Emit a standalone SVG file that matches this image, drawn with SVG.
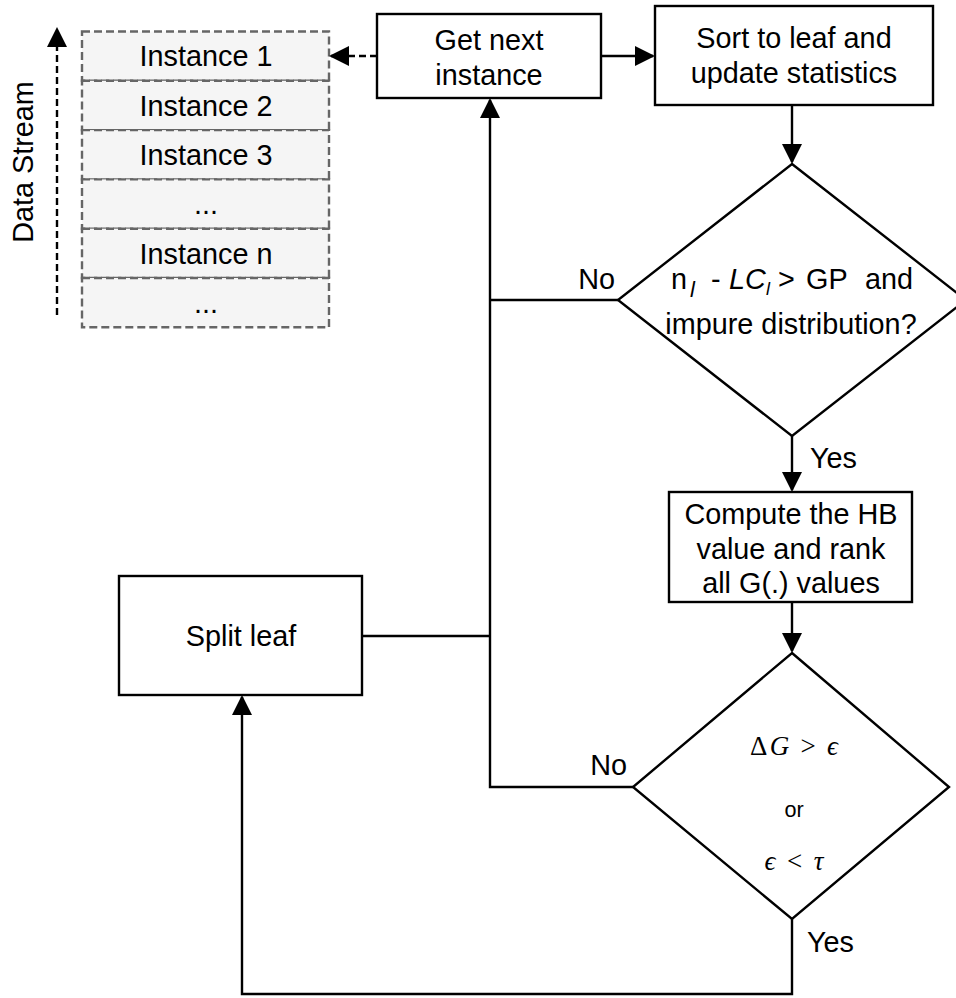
<svg xmlns="http://www.w3.org/2000/svg" width="956" height="998" viewBox="0 0 956 998">
  <defs>
    <marker id="arrow" markerUnits="userSpaceOnUse" markerWidth="20" markerHeight="20" refX="18" refY="10" orient="auto">
      <path d="M0,0 L20,10 L0,20 Z" fill="#000"/>
    </marker>
    <style>
      .box{fill:#fff;stroke:#000;stroke-width:2.4}
      .row{fill:#f5f5f5;stroke:#666;stroke-width:2.4;stroke-dasharray:8 4}
      .lbl{font-family:"Liberation Sans",Helvetica,Arial,sans-serif;font-size:28.8px;fill:#000;text-anchor:middle}
      .lbl-start{text-anchor:start}
      .lbl-end{text-anchor:end}
      .small{font-size:21.6px}
      .edge{fill:none;stroke:#000;stroke-width:2.4}
      .dash{stroke-dasharray:7 4}
      .math{font-family:"Liberation Serif","DejaVu Serif",serif;font-size:27px;fill:#000;text-anchor:middle}
      .it{font-style:italic}
    </style>
  </defs>

  <rect width="956" height="998" fill="#fff"/>

  <!-- data stream queue -->
  <g id="stream">
    <rect class="row" x="82" y="31.5" width="247" height="49.3"/>
    <rect class="row" x="82" y="80.8" width="247" height="49.3"/>
    <rect class="row" x="82" y="130.1" width="247" height="49.3"/>
    <rect class="row" x="82" y="179.4" width="247" height="49.3"/>
    <rect class="row" x="82" y="228.7" width="247" height="49.3"/>
    <rect class="row" x="82" y="278" width="247" height="49.3"/>
    <text class="lbl" x="206" y="66">Instance 1</text>
    <text class="lbl" x="206" y="115.5">Instance 2</text>
    <text class="lbl" x="206" y="165">Instance 3</text>
    <text class="lbl" x="206" y="214">...</text>
    <text class="lbl" x="206" y="263.5">Instance n</text>
    <text class="lbl" x="206" y="313">...</text>
    <text class="lbl" transform="translate(33,162) rotate(-90)">Data Stream</text>
  </g>

  <!-- process nodes -->
  <g id="get-next">
    <rect class="box" x="377" y="14" width="224" height="84"/>
    <text class="lbl" x="489" y="50">Get next</text>
    <text class="lbl" x="489" y="85">instance</text>
  </g>

  <g id="sort-leaf">
    <rect class="box" x="655" y="6" width="278" height="99"/>
    <text class="lbl" x="794" y="48">Sort to leaf and</text>
    <text class="lbl" x="794" y="83">update statistics</text>
  </g>

  <g id="check-grace">
    <polygon class="box" points="792,164 966,300 792,436 618,300"/>
    <text class="lbl lbl-start" y="289" xml:space="preserve"><tspan x="671">n</tspan><tspan class="it" x="690" y="297" font-size="22">l</tspan><tspan x="711" y="289">-</tspan><tspan class="it" x="729">LC</tspan><tspan class="it" x="766" y="295" font-size="18">l</tspan><tspan x="778" y="289">&gt;</tspan><tspan x="806">GP</tspan><tspan x="865">and</tspan></text>
    <text class="lbl" x="791" y="334">impure distribution?</text>
  </g>

  <g id="compute-hb">
    <rect class="box" x="669" y="492" width="243" height="110"/>
    <text class="lbl" x="791" y="524">Compute the HB</text>
    <text class="lbl" x="791" y="559">value and rank</text>
    <text class="lbl" x="791" y="593">all G(.) values</text>
  </g>

  <g id="check-split">
    <polygon class="box" points="792,653 949,787 792,919 633,787"/>
    <text class="math" x="794" y="755" textLength="88" lengthAdjust="spacing">Δ<tspan class="it">G</tspan> &gt; <tspan class="it">ϵ</tspan></text>
    <text class="lbl small" x="794" y="817">or</text>
    <text class="math" x="794" y="870" textLength="59" lengthAdjust="spacing"><tspan class="it">ϵ</tspan> &lt; <tspan class="it">τ</tspan></text>
  </g>

  <g id="split-leaf">
    <rect class="box" x="119" y="576" width="243" height="119"/>
    <text class="lbl" x="241" y="646">Split leaf</text>
  </g>

  <!-- connectors -->
  <g id="edges">
    <path class="edge dash" d="M57,315 L57,29" marker-end="url(#arrow)"/>
    <path class="edge dash" d="M377,56 L331,56" marker-end="url(#arrow)"/>
    <path class="edge" d="M601,56 L653,56" stroke-width="4" marker-end="url(#arrow)"/>
    <path class="edge" d="M792,105 L792,162" marker-end="url(#arrow)"/>
    <path class="edge" d="M792,436 L792,490" marker-end="url(#arrow)"/>
    <path class="edge" d="M792,602 L792,651" marker-end="url(#arrow)"/>
    <path class="edge" d="M618,300 L490,300"/>
    <path class="edge" d="M362,636 L490,636"/>
    <path class="edge" d="M633,787 L490,787 L490,100" marker-end="url(#arrow)"/>
    <path class="edge" d="M792,919 L792,994 L242,994 L242,697" marker-end="url(#arrow)"/>
    <text class="lbl lbl-end" x="615" y="289">No</text>
    <text class="lbl lbl-start" x="810" y="468">Yes</text>
    <text class="lbl lbl-end" x="627" y="775">No</text>
    <text class="lbl lbl-start" x="807" y="952">Yes</text>
  </g>
</svg>
